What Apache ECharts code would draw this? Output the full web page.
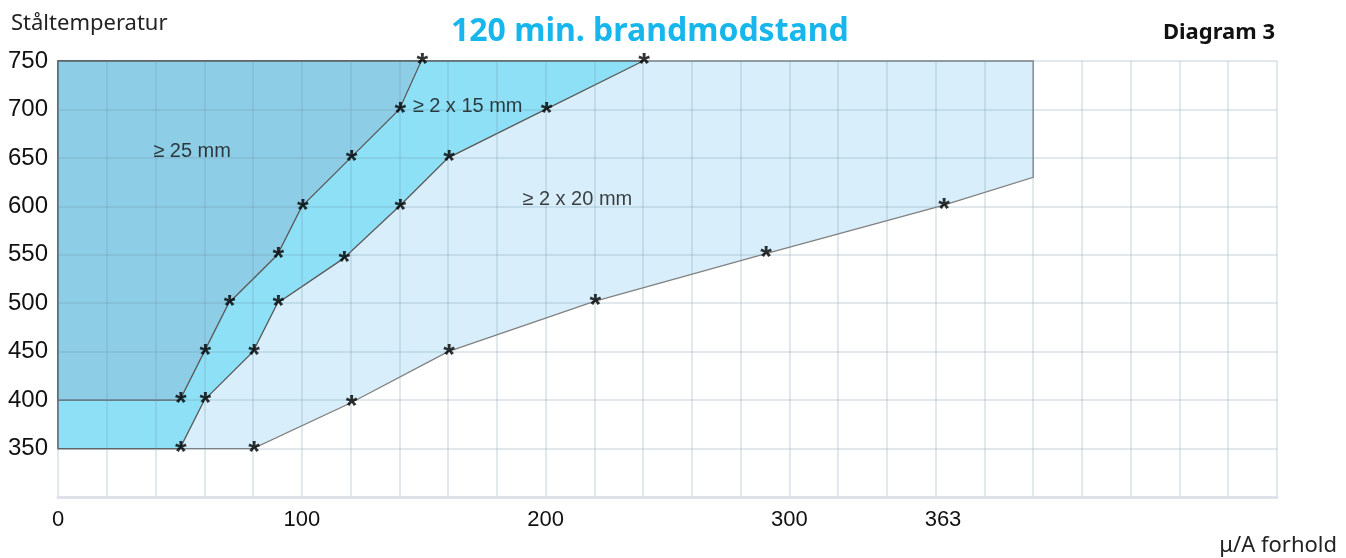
<!DOCTYPE html>
<html>
<head>
<meta charset="utf-8">
<script src="https://cdn.jsdelivr.net/npm/echarts@6/dist/echarts.min.js"></script>
<style>
  html, body { margin: 0; padding: 0; background: #fff; }
  #chart { width: 1346px; height: 558px; }
</style>
</head>
<body>
<div id="chart"></div>
<script>
// grænsekurver: [mu/A forhold, ståltemperatur]
const curve25 = [[50, 400], [60, 450], [70, 500], [90, 550], [100, 600], [120, 650], [140, 700], [149, 750]]
const curve2x15 = [[50, 350], [60, 400], [80, 450], [90, 500], [117, 546], [140, 600], [160, 650], [200, 700], [240, 750]]
const curve2x20 = [[80, 350], [120, 397], [160, 450], [220, 502], [290, 551], [363, 601]]
const edge2x20 = [[400, 630], [400, 750]]
const xLabels = [0, 100, 200, 300, 363]
const yLabels = [350, 400, 450, 500, 550, 600, 650, 700, 750]
const regionNames = ['≥ 25 mm', '≥ 2 x 15 mm', '≥ 2 x 20 mm']
const regionAnchors = [[55, 657], [168, 703], [213, 607]]

const poly25 = [[0, 400]].concat(curve25, [[0, 750]])
const poly2x15 = [[0, 350]].concat(curve2x15, [[0, 750]])
const poly2x20 = [[0, 350]].concat(curve2x20, edge2x20, [[0, 750]])

function area (points, fill, stroke) {
  return {
    type: 'custom',
    z: 2,
    silent: true,
    data: points,
    renderItem: (params, api) => {
      if (params.dataIndex !== 0) return null
      return {
        type: 'polygon',
        shape: { points: points.map(p => api.coord(p)) },
        style: { fill: fill, stroke: stroke, lineWidth: 1.3 }
      }
    }
  }
}

const labelFont = 'Liberation Sans'
const titleFont = 'Noto Sans'

let myChart = echarts.init(document.getElementById('chart'))
myChart.setOption({
  animation: false,
  title: [
    {
      text: '120 min. brandmodstand',
      left: 446,
      top: 11,
      textStyle: { color: '#17b6ec', fontSize: 32, fontWeight: 'bold', fontFamily: titleFont }
    },
    {
      text: 'Ståltemperatur',
      left: 6,
      top: 8,
      textStyle: { color: '#222', fontSize: 22, fontWeight: 'normal', fontFamily: titleFont }
    },
    {
      text: 'Diagram 3',
      right: 66,
      top: 17,
      textStyle: { color: '#111', fontSize: 22, fontWeight: 'bold', fontFamily: titleFont }
    },
    {
      text: 'μ/A forhold',
      right: 4,
      top: 530,
      textStyle: { color: '#222', fontSize: 22, fontWeight: 'normal', fontFamily: titleFont }
    }
  ],
  grid: {
    left: 58,
    right: 69,
    top: 61,
    bottom: 61
  },
  xAxis: {
    type: 'value',
    min: 0,
    max: 500,
    interval: 20,
    z: 3,
    axisLine: { show: true, lineStyle: { color: '#dde3e8', width: 3 } },
    axisTick: { show: false },
    axisLabel: {
      customValues: xLabels,
      margin: 12,
      color: '#111',
      fontSize: 22,
      fontFamily: labelFont
    },
    splitLine: { show: true, lineStyle: { color: 'rgba(110,145,165,0.27)', width: 1.5 } }
  },
  yAxis: {
    type: 'value',
    min: 300,
    max: 750,
    interval: 50,
    z: 3,
    axisLine: { show: false },
    axisTick: { show: false },
    axisLabel: {
      customValues: yLabels,
      margin: 10,
      color: '#111',
      fontSize: 24,
      fontFamily: labelFont
    },
    splitLine: { show: true, lineStyle: { color: 'rgba(110,145,165,0.27)', width: 1.5 } }
  },
  series: [
    area(poly2x20, '#d8effb', '#808080'),
    area(poly2x15, '#8ee0f6', '#5a5a5a'),
    area(poly25, '#8ecde6', '#5a5a5a'),
    {
      type: 'scatter',
      z: 5,
      silent: true,
      symbol: 'circle',
      symbolSize: 1,
      itemStyle: { color: 'rgba(0,0,0,0)' },
      label: {
        show: true,
        position: 'inside',
        formatter: '*',
        color: '#000',
        fontSize: 30,
        fontWeight: 'bold',
        fontFamily: labelFont,
        offset: [1, 4]
      },
      data: curve25.concat(curve2x15, curve2x20)
    },
    {
      type: 'scatter',
      z: 5,
      silent: true,
      symbol: 'circle',
      symbolSize: 1,
      itemStyle: { color: 'rgba(0,0,0,0)' },
      label: {
        show: true,
        position: 'inside',
        formatter: (p) => p.name,
        color: '#111',
        fontSize: 20,
        fontFamily: labelFont
      },
      data: regionNames.map((n, i) => ({ name: n, value: regionAnchors[i] }))
    }
  ]
})
</script>
</body>
</html>
